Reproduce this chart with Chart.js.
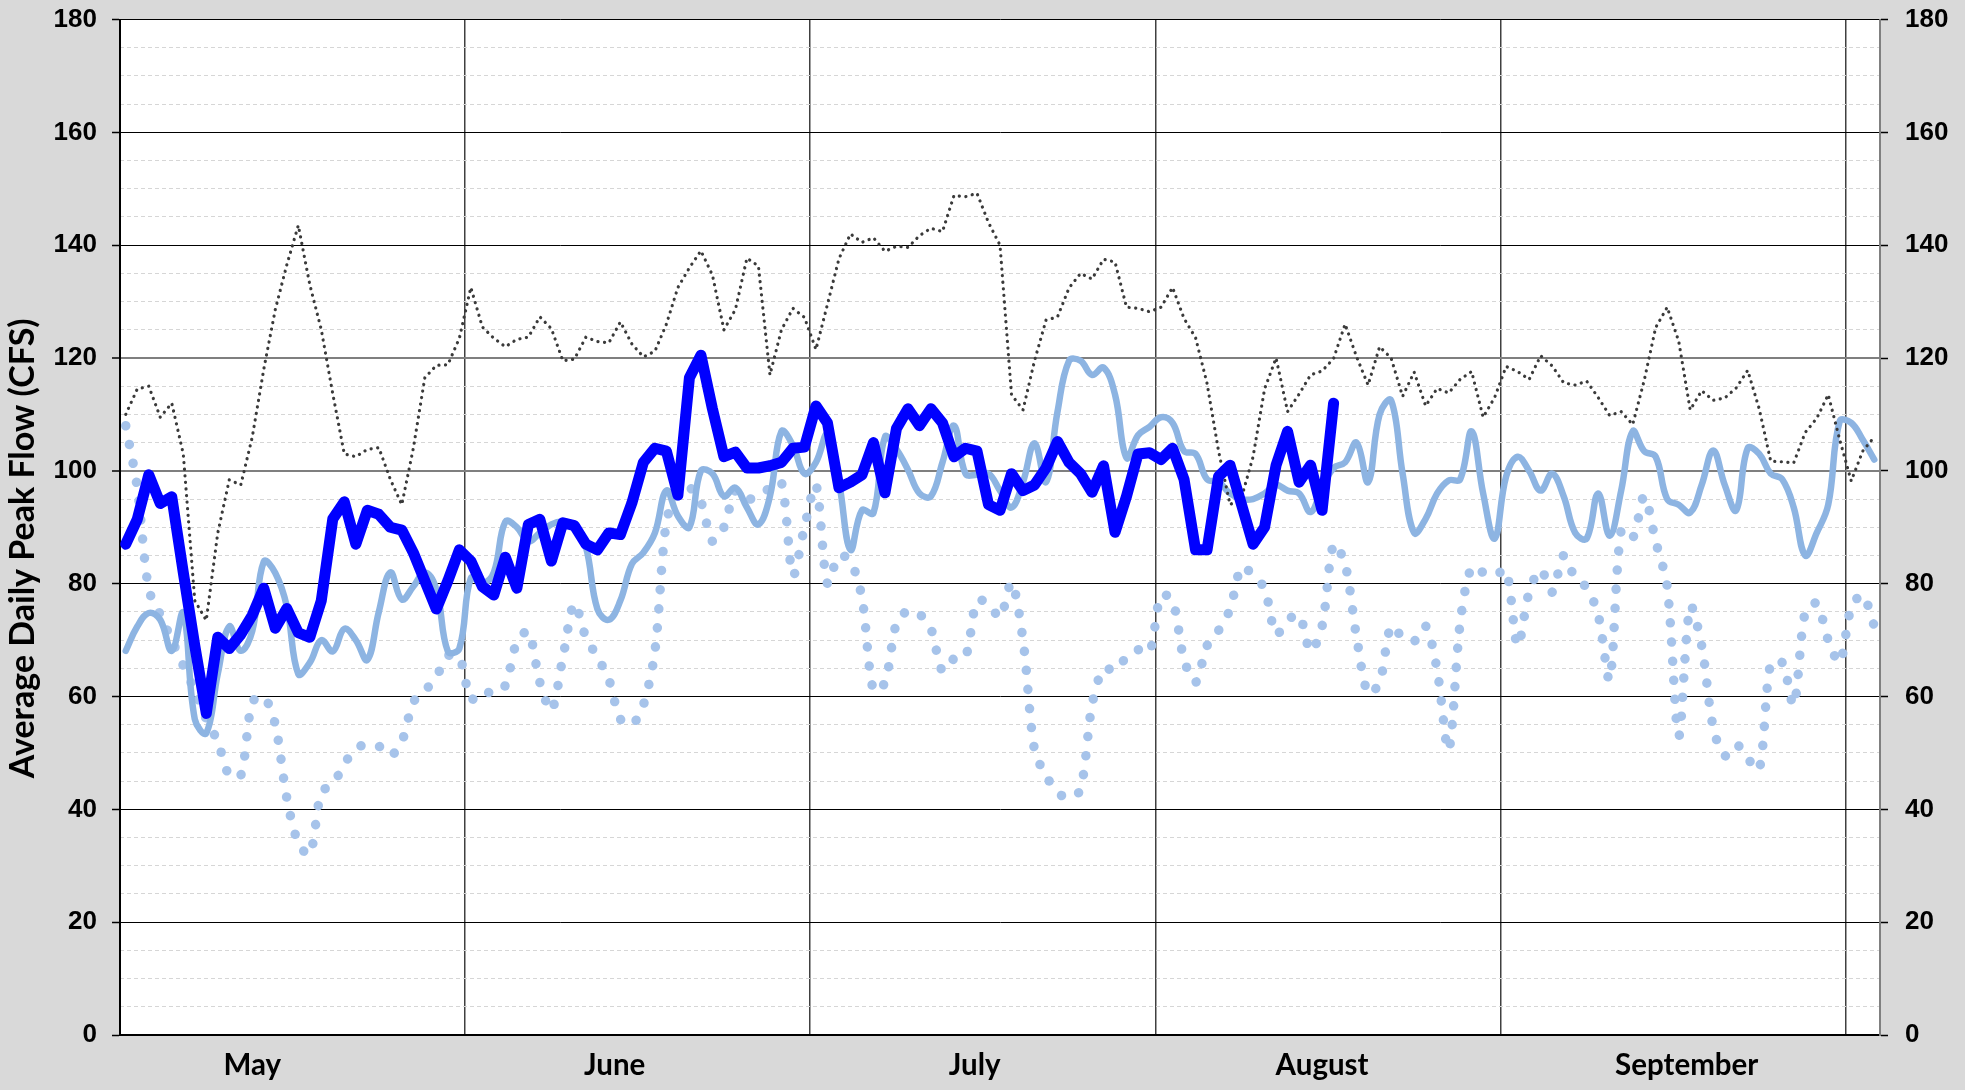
<!DOCTYPE html>
<html>
<head>
<meta charset="utf-8">
<title>Average Daily Peak Flow</title>
<script src="https://cdn.jsdelivr.net/npm/chart.js@4.4.1/dist/chart.umd.min.js"></script>
<style>
  html, body { margin: 0; padding: 0; background: #d9d9d9; overflow: hidden; }
  canvas { display: block; }
</style>
</head>
<body>
<canvas id="flow" width="1965" height="1090"></canvas>
<script>
// day offsets from May 1 (0) to Oct 1 (153)
const days = Array.from({length: 153}, (_, i) => i)

const months = ["May", "June", "July", "August", "September"]

// current season, bold blue (stops mid August)
const currentYear = [
  87, 91.4, 99.3, 94.2, 95.4, 82, 69, 57, 70.5, 68.5,
  71, 74.4, 79.2, 72.1, 75.6, 71.3, 70.5, 77, 91.5, 94.5,
  87, 93, 92.3, 90, 89.5, 85.5, 80.5, 75.5, 80.5, 86,
  84, 79.5, 78, 84.7, 79.2, 90.5, 91.4, 84, 90.8, 90.3,
  87, 86, 89, 88.7, 94.3, 101.5, 104, 103.5, 95.7, 116.5,
  120.5, 111, 102.5, 103.3, 100.5, 100.5, 100.9, 101.5, 104, 104.2,
  111.5, 108.5, 97, 98, 99.3, 105, 96.1, 107.5, 111, 108,
  111, 108.5, 102.5, 104, 103.5, 94, 93, 99.5, 96.5, 97.5,
  100.5, 105.2, 101.5, 99.5, 96.2, 100.9, 89.1, 95.5, 103, 103.2,
  102, 104, 98.5, 86, 86, 99, 101, 94, 87, 90,
  101, 107, 98, 101, 93, 112
]

// light blue solid line
const averageFlow = [
  68.1, 72.4, 74.8, 73.6, 68.1, 74.8, 56, 53.5, 64, 72.4,
  68.1, 71.6, 83.9, 81.9, 76, 64, 66, 70, 68, 72,
  70, 66.5, 75, 82, 77.2, 79.5, 82, 79, 68, 68.5,
  81, 80, 82, 91, 90, 87.5, 89, 90.5, 91, 90.3,
  86.5, 75.5, 73.6, 77, 83.5, 85.5, 89, 96.5, 92, 90,
  100, 99.5, 95.5, 97, 93.5, 90.5, 95.5, 107, 104.5, 99.5,
  101.5, 106.5, 98, 86, 93, 92.5, 106, 103.8, 100.2, 96,
  95.5, 101.5, 108, 99.5, 99.3, 99.5, 96.5, 93.5, 98, 104.9,
  98, 110.5, 119.5, 119.5, 117, 118.3, 113.5, 102.3, 106.3, 107.8,
  109.5, 108.5, 103.5, 103, 98.5, 98, 96, 95, 95, 96,
  97.5, 96.5, 96, 92.7, 97, 100.5, 101.5, 105, 98, 110,
  112.5, 99.5, 89, 91.5, 96, 98.3, 98.5, 107, 96, 88,
  99, 102.5, 100, 96.5, 99.5, 95.5, 89, 88, 96, 88.5,
  96.5, 107, 103.5, 102.5, 95, 94, 92.6, 97.5, 103.6, 97.5,
  93, 104, 103, 99.5, 98.5, 93.5, 85, 89, 94, 108.8,
  108.5, 105.5, 102
]

// light blue round dots
const lowFlow = [
  108, 97, 79, 74.5, 70, 65.5, 61, 56, 52, 46,
  46, 59, 60, 55, 42, 34, 32, 43, 44.5, 48,
  50.8, 51.5, 51.2, 49.5, 52, 59, 61, 63.5, 67.2, 67,
  59.5, 61, 60.5, 62, 69.7, 71.5, 62.5, 57.5, 66.9, 76.5,
  70.5, 67, 63, 56, 55, 58.5, 68, 91, 96, 97,
  94.5, 87.5, 90, 96.5, 95, 95.5, 97, 98, 81.5, 90,
  97.5, 80, 85, 84, 77.5, 61, 62.5, 73, 75.2, 74.6,
  72, 64.5, 66.7, 67, 77, 76.5, 74, 80.2, 70, 50.5,
  46, 43, 42, 43.5, 58.5, 65, 64.6, 67, 68.3, 67.8,
  78, 77, 66.5, 62.5, 69, 71.7, 75.5, 83, 81.5, 79.1,
  71, 73.5, 74.5, 68, 72.5, 87, 83.5, 70.5, 60.5, 62.5,
  72.5, 70.5, 69.8, 72.5, 64.7, 50.5, 73, 83, 82, 81.5,
  82.4, 69, 78.5, 82.5, 78.5, 85, 81, 79.3, 74.5, 63,
  89.5, 88.1, 95.5, 87.5, 79.5, 53, 76, 69, 54.5, 49.5,
  51.5, 49, 47, 66, 66, 58.5, 75, 76.5, 70, 66,
  75.8, 78, 72.5
]

// dark grey small dots
const highFlow = [
  110, 114.5, 115, 109.5, 112, 103, 77, 73.5, 89, 98.4,
  97.5, 106, 118, 128.6, 136.5, 143.5, 133, 125, 113.6, 103,
  102.5, 103.8, 104.1, 98.5, 94, 104, 116.5, 118.7, 118.8, 123.5,
  132.5, 125.5, 123.5, 122, 123.3, 123.7, 127.3, 125.2, 119.5, 119.8,
  123.7, 122.9, 122.7, 126.4, 122.5, 120.2, 121.2, 126, 132.5, 136,
  139, 134.7, 125, 128.6, 137.7, 136.3, 117, 125, 128.8, 127.2,
  121.5, 129.5, 137.6, 142, 140.5, 141.3, 138.9, 139.8, 139.6, 141.7,
  143, 142.4, 148.8, 148.6, 149.2, 144, 140, 113.5, 110.8, 119.5,
  126.7, 127.3, 132.4, 135, 134, 137.5, 137, 129, 128.8, 128.2,
  129, 132.5, 127, 123.6, 115.5, 103.5, 94, 95.3, 102.5, 114.5,
  120, 110.5, 113.6, 117, 117.7, 119.9, 126, 120.2, 115.2, 122,
  120, 113.2, 117.5, 111.5, 114.6, 113.8, 116.2, 117.6, 109.5, 113,
  118.5, 117.6, 116.2, 120.4, 118.6, 115.6, 115.2, 115.9, 113, 109.8,
  110.5, 108.2, 116, 125.4, 129, 123, 110.8, 114.2, 112.5, 112.9,
  114.7, 117.8, 111, 101.7, 101.6, 101.4, 106.8, 109.3, 113.5, 105.5,
  98.2, 103.5, 106
]

const numberFont = {family: "'Liberation Sans', Arial, sans-serif", size: 26, weight: "bold"}
const labelFont = {family: "Lato, 'Open Sans', sans-serif", size: 29.5, weight: "bold"}

// grey page behind, white plot area
const plotBackground = {
  id: "plotBackground",
  beforeDraw(chart) {
    const {ctx, chartArea: a} = chart
    ctx.save()
    ctx.fillStyle = "#d9d9d9"
    ctx.fillRect(0, 0, chart.width, chart.height)
    ctx.fillStyle = "#ffffff"
    ctx.fillRect(a.left, a.top, a.right - a.left, a.bottom - a.top)
    ctx.restore()
  }
}

// rotated title, sits a bit below the middle of the axis
const axisTitle = {
  id: "axisTitle",
  afterDraw(chart) {
    const {ctx, chartArea: a} = chart
    ctx.save()
    ctx.translate(23, (a.top + a.bottom) / 2 + 21)
    ctx.rotate(-Math.PI / 2)
    ctx.font = "bold 34px Lato, sans-serif"
    ctx.fillStyle = "#000"
    ctx.textAlign = "center"
    ctx.textBaseline = "middle"
    ctx.fillText("Average Daily Peak Flow (CFS)", 0, 0)
    ctx.restore()
  }
}

// y axes should not push the plot down for their end labels
const noEndPadding = s => { s.paddingTop = 0; s.paddingBottom = 0 }

new Chart(document.getElementById("flow"), {
  type: "line",
  plugins: [plotBackground, axisTitle],
  data: {
    labels: days,
    datasets: [
      {
        label: "Current",
        data: currentYear,
        borderColor: "#0000ff",
        borderWidth: 11,
        borderJoinStyle: "round",
        borderCapStyle: "round",
        tension: 0,
        order: 0
      },
      {
        label: "High",
        data: highFlow,
        borderColor: "#3a3a3a",
        borderWidth: 3.2,
        borderDash: [0.1, 6.5],
        borderCapStyle: "round",
        tension: 0,
        order: 1
      },
      {
        label: "Average",
        data: averageFlow,
        borderColor: "#8db4e2",
        borderWidth: 6.5,
        borderCapStyle: "round",
        tension: 0.4,
        order: 2
      },
      {
        label: "Low",
        data: lowFlow,
        borderColor: "#a6c3ea",
        borderWidth: 9.5,
        borderDash: [0.1, 19],
        borderCapStyle: "round",
        tension: 0.3,
        order: 3
      }
    ]
  },
  options: {
    responsive: false,
    animation: false,
    layout: {padding: {top: 19.5, left: 0, right: 0, bottom: 0}},
    elements: {point: {radius: 0}},
    plugins: {legend: {display: false}, tooltip: {enabled: false}},
    scales: {
      x: {
        type: "linear",
        min: -0.5,
        max: 152.5,
        // a line every 30 days
        afterBuildTicks: s => { s.ticks = [-0.5, 29.5, 59.5, 89.5, 119.5, 149.5].map(v => ({value: v})) },
        afterFit: s => { s.height = 0 },
        ticks: {display: false},
        grid: {drawTicks: false, color: "#404040", lineWidth: 1.5},
        border: {color: "#000", width: 2}
      },
      xMonths: {
        type: "linear",
        axis: "x",
        position: "bottom",
        min: -0.5,
        max: 152.5,
        // label centres, in days
        afterBuildTicks: s => { s.ticks = [11, 42.5, 73.8, 104, 135.7].map(v => ({value: v})) },
        afterFit: s => { s.height = 55 },
        grid: {display: false, drawTicks: false},
        border: {display: false},
        ticks: {
          autoSkip: false,
          maxRotation: 0,
          padding: 13,
          color: "#000",
          font: labelFont,
          callback: (v, i) => months[i]
        }
      },
      y: {
        position: "left",
        min: 0,
        max: 180,
        afterFit: s => { s.width = 120; noEndPadding(s) },
        ticks: {stepSize: 20, padding: 15, color: "#000", font: numberFont},
        grid: {
          color: c => (c.tick.value === 100 || c.tick.value === 120) ? "#7f7f7f" : "#000",
          lineWidth: c => (c.tick.value === 100 || c.tick.value === 120) ? 2 : 1,
          tickLength: 8,
          tickColor: "#000",
          tickWidth: 1.5
        },
        border: {color: "#000", width: 2}
      },
      yMinor: {
        position: "left",
        axis: "y",
        min: 0,
        max: 180,
        afterFit: s => { s.width = 0; noEndPadding(s) },
        ticks: {display: false, stepSize: 5},
        grid: {
          drawTicks: false,
          color: c => c.tick.value % 20 === 0 ? "rgba(0,0,0,0)" : "#d6d6d6",
          lineWidth: 1
        },
        border: {display: false, dash: [4, 3]}
      },
      y2: {
        position: "right",
        axis: "y",
        min: 0,
        max: 180,
        afterFit: s => { s.width = 85; noEndPadding(s) },
        ticks: {stepSize: 20, padding: 17, color: "#000", font: numberFont},
        grid: {drawOnChartArea: false, tickLength: 8, color: "#000", tickWidth: 1.5},
        border: {color: "#808080", width: 2}
      }
    }
  }
})
</script>
</body>
</html>
